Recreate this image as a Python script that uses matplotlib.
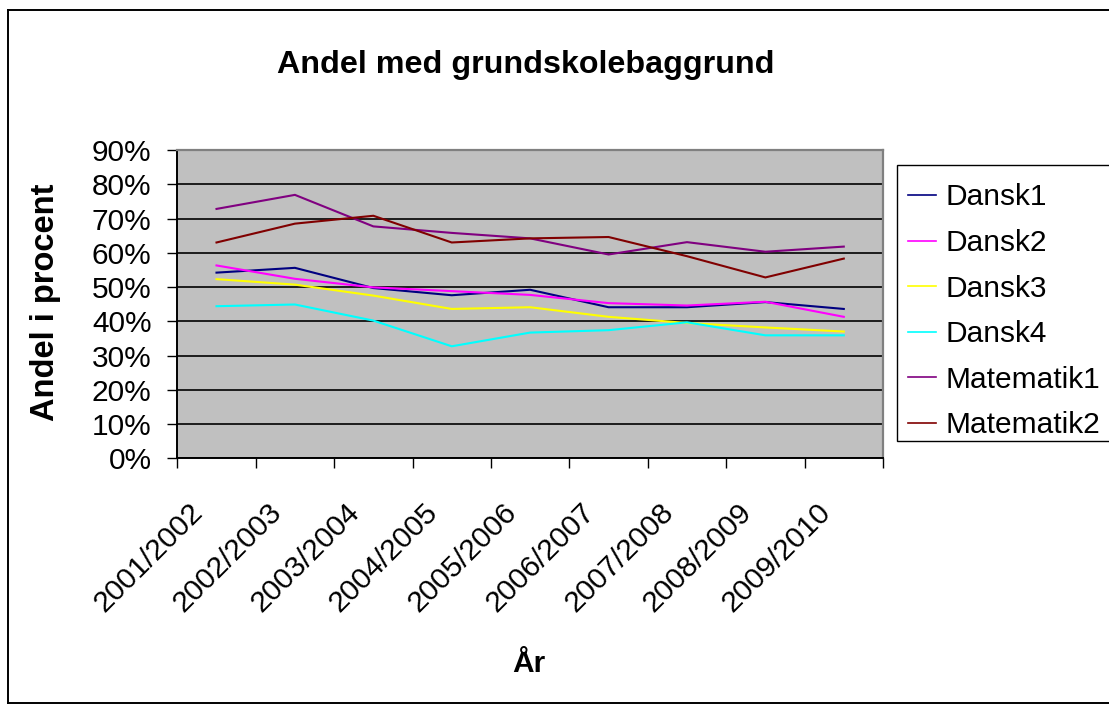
import matplotlib
matplotlib.use("Agg")
import matplotlib.pyplot as plt
from matplotlib import font_manager
from matplotlib.lines import Line2D
from matplotlib.patches import Rectangle
from matplotlib.ticker import FixedLocator, FuncFormatter
import matplotlib.transforms as mtransforms

# Data (share in percent)
years = ["2001/2002", "2002/2003", "2003/2004", "2004/2005", "2005/2006",
         "2006/2007", "2007/2008", "2008/2009", "2009/2010"]
dansk1 = [54.2, 55.6, 49.7, 47.6, 49.2, 44.1, 44.1, 45.6, 43.6]
dansk2 = [56.3, 52.4, 49.9, 48.8, 47.7, 45.3, 44.6, 45.7, 41.3]
dansk3 = [52.3, 50.7, 47.5, 43.6, 44.1, 41.3, 39.5, 38.2, 37.0]
dansk4 = [44.4, 44.9, 40.2, 32.7, 36.7, 37.4, 39.7, 35.9, 35.9]
matematik1 = [72.8, 76.9, 67.7, 65.8, 64.2, 59.5, 63.1, 60.3, 61.8]
matematik2 = [63.0, 68.5, 70.8, 63.0, 64.2, 64.6, 59.0, 52.8, 58.3]
series_names = ["Dansk1", "Dansk2", "Dansk3", "Dansk4", "Matematik1", "Matematik2"]
series_values = [dansk1, dansk2, dansk3, dansk4, matematik1, matematik2]
series_colors = ["#000080", "#FF00FF", "#FFFF00", "#00FFFF", "#800080", "#800000"]
y_ticks = [0, 10, 20, 30, 40, 50, 60, 70, 80, 90]

title_text = "Andel med grundskolebaggrund"
ylabel_text = "Andel i procent"
xlabel_text = "År"

plt.rcParams["font.family"] = ["Liberation Sans", "DejaVu Sans"]

installed = {f.name for f in font_manager.fontManager.ttflist}
if "Liberation Sans Narrow" in installed:
    title_family, title_size = ["Liberation Sans Narrow", "Liberation Sans"], 27.7
else:
    title_family, title_size = ["Liberation Sans", "DejaVu Sans"], 23.2

W, H = 1109, 706
fig = plt.figure(figsize=(W / 100, H / 100), dpi=100)
fig.patch.set_facecolor("white")


def px(x, y):
    """Figure-pixel (top-left origin) to figure fraction."""
    return x / W, 1 - y / H


# Plot area
left, right, top, bottom = 177.3, 883.0, 150.0, 458.3
ax = fig.add_axes([left / W, 1 - bottom / H, (right - left) / W, (bottom - top) / H])
ax.set_facecolor("#C0C0C0")

xs = list(range(len(years)))
for name, vals, col in zip(series_names, series_values, series_colors):
    ax.plot(xs, vals, color=col, lw=1.5, label=name, solid_joinstyle="miter", zorder=3)

ax.set_xlim(-0.5, len(years) - 0.5)
ax.set_ylim(0, 90)

# Horizontal gridlines
ax.yaxis.set_major_locator(FixedLocator(y_ticks))
ax.yaxis.set_major_formatter(FuncFormatter(lambda v, p: f"{v:.0f}%"))
ax.grid(axis="y", color="black", lw=1.2, zorder=1)
ax.set_axisbelow(True)

# Spines
for s in ("left", "bottom"):
    ax.spines[s].set_color("black")
    ax.spines[s].set_linewidth(1.4)
for s in ("top", "right"):
    ax.spines[s].set_color("#808080")
    ax.spines[s].set_linewidth(1.6)

# Ticks: category labels at centres, tick marks between categories
ax.xaxis.set_major_locator(FixedLocator(xs))
ax.set_xticklabels(years)
ax.xaxis.set_minor_locator(FixedLocator([i - 0.5 for i in range(len(years) + 1)]))
ax.tick_params(axis="x", which="major", length=0, pad=36.0, labelsize=21.5)
ax.tick_params(axis="x", which="minor", length=7.5, width=1.0, direction="out", color="black")
ax.tick_params(axis="y", which="major", length=7.5, width=1.0, direction="out",
               color="black", pad=11, labelsize=21.5)

offset = mtransforms.ScaledTranslation(-18 / 100, 0, fig.dpi_scale_trans)
for lab in ax.get_xticklabels():
    lab.set_rotation(45)
    lab.set_rotation_mode("anchor")
    lab.set_ha("right")
    lab.set_va("center")
    lab.set_transform(lab.get_transform() + offset)

# Titles
fig.text(*px(526, 73.3), title_text, ha="center", va="baseline",
         fontsize=title_size, fontweight="bold", family=title_family)
fig.text(*px(46, 302), ylabel_text, ha="center", va="center", rotation=90,
         fontsize=23.5, fontweight="bold")
fig.text(*px(529, 664), xlabel_text, ha="center", va="center",
         fontsize=21.5, fontweight="bold")

# Legend box
lx0, ly0, lx1, ly1 = 896.7, 165, 1115, 441
fig.add_artist(Rectangle(px(lx0, ly1), (lx1 - lx0) / W, (ly1 - ly0) / H,
                         transform=fig.transFigure, facecolor="white",
                         edgecolor="black", lw=1.0, zorder=4))
x0, y0 = px(lx0, 172)
leg = fig.legend(loc="upper left", bbox_to_anchor=(x0, y0), borderaxespad=0,
                 fontsize=21.5, frameon=False, handlelength=0.94,
                 handletextpad=0.33, labelspacing=0.59, borderpad=0.38)
leg.set_zorder(5)
for h in leg.legend_handles:
    h.set_linewidth(1.2)

# Outer chart border
border_kw = dict(color="black", lw=1.4, transform=fig.transFigure)
fig.add_artist(Line2D([8 / W, 8 / W], [1 - 10 / H, 1 - 703 / H], **border_kw))
fig.add_artist(Line2D([8 / W, 1.01], [1 - 10 / H, 1 - 10 / H], **border_kw))
fig.add_artist(Line2D([8 / W, 1.01], [1 - 703 / H, 1 - 703 / H], **border_kw))

fig.savefig("out.png", dpi=100)
